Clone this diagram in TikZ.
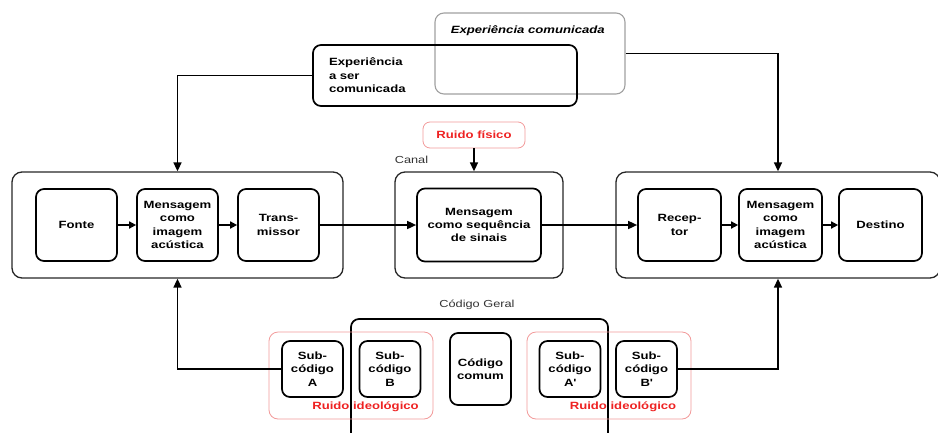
\documentclass[tikz,border=0pt]{standalone}
\usepackage{fontspec}
\setmainfont{Liberation Sans}
\newfontfamily\widefont[FakeStretch=1.25]{Liberation Sans}
\usetikzlibrary{arrows.meta}
\definecolor{noisered}{HTML}{EE2222}
\definecolor{noiseline}{HTML}{F29A9A}
\definecolor{greyline}{HTML}{A0A0A0}
\tikzset{
  boxtext/.style={font=\widefont\bfseries\fontsize{10.5}{13.4}\selectfont},
  outerbox/.style={draw=black!85, rounded corners=10pt, line width=1.3pt},
  innerbox/.style={boxtext, draw, rounded corners=8pt, line width=1.7pt, align=center,
    minimum width=81pt, minimum height=72pt, inner sep=1pt},
  subbox/.style={innerbox, minimum width=61pt, minimum height=56pt},
  noisebox/.style={boxtext, draw=noiseline, text=noisered, rounded corners=7pt, line width=0.8pt},
  noisetext/.style={boxtext, text=noisered, inner sep=1pt},
  labeltext/.style={font=\widefont\fontsize{10.2}{12}\selectfont, text=black!80, inner sep=1pt},
  shortarrow/.style={-{Triangle[length=7pt,width=7pt]}},
}
\begin{document}
\begin{tikzpicture}[x=1pt, y=-1pt, >={Triangle[length=9pt,width=8pt]}, line width=1.6pt]
  \useasboundingbox (0,0) rectangle (938,432);
  % experiencias
  \node [draw=greyline, rounded corners=9pt, line width=1.1pt, minimum width=190pt, minimum height=81pt] (expcom) at (530,53.5) {};
  \node [boxtext, font=\widefont\bfseries\itshape\fontsize{10.5}{13.4}\selectfont, anchor=west, inner sep=0pt] (expcomtxt) at (450,31) {Experiência comunicada};
  \node [boxtext, draw, rounded corners=8pt, line width=1.7pt, align=left, text width=232pt,
    inner xsep=16pt, minimum height=61pt] (expser) at (445,75.5) {Experiência\\a ser\\comunicada};
  % canal
  \node [noisebox, minimum width=102pt, minimum height=26pt] (ruido) at (474,135) {Ruido físico};
  \node [labeltext, anchor=west] (canallbl) at (393,160) {Canal};
  \node [outerbox, minimum width=168pt, minimum height=106pt] (canal) at (479,225) {};
  \node [innerbox, minimum width=124pt, minimum height=73pt] (sinais) at (479,225) {Mensagem\\como sequência\\de sinais};
  % emissor
  \node [outerbox, minimum width=331pt, minimum height=106pt] (emissor) at (177.5,225) {};
  \node [innerbox] (fonte) at (76.5,225) {Fonte};
  \node [innerbox] (msgfonte) at (177.5,225) {Mensagem\\como\\imagem\\acústica};
  \node [innerbox] (transm) at (278.5,225) {Trans-\\missor};
  % receptor
  \node [outerbox, minimum width=324pt, minimum height=106pt] (receptor) at (778,225) {};
  \node [innerbox, minimum width=83pt] (recep) at (679.5,225) {Recep-\\tor};
  \node [innerbox, minimum width=83pt] (msgdest) at (780.5,225) {Mensagem\\como\\imagem\\acústica};
  \node [innerbox, minimum width=83pt] (destino) at (880.5,225) {Destino};
  % codigos
  \node [labeltext] (gerallbl) at (477,305) {Código Geral};
  \node [draw, rounded corners=8pt, line width=1.7pt, minimum width=257pt, minimum height=141pt] (geral) at (479.5,389.5) {};
  \node [draw=noiseline, rounded corners=9pt, line width=0.8pt, minimum width=164pt, minimum height=87pt] (ruidoA) at (351,375.5) {};
  \node [draw=noiseline, rounded corners=9pt, line width=0.8pt, minimum width=164pt, minimum height=87pt] (ruidoB) at (609,375.5) {};
  \node [subbox] (subA) at (312.5,369) {Sub-\\código\\A};
  \node [subbox] (subB) at (390,369) {Sub-\\código\\B};
  \node [subbox, minimum height=72pt] (comum) at (480.5,369) {Código\\comum};
  \node [subbox] (subAp) at (570,369) {Sub-\\código\\A\textquotesingle};
  \node [subbox] (subBp) at (646.5,369) {Sub-\\código\\B\textquotesingle};
  \node [noisetext] (ideolA) at (365.5,407) {Ruido ideológico};
  \node [noisetext] (ideolB) at (623,407) {Ruido ideológico};
  % ligacoes
  \draw [->] (expser.west) -| (emissor.north);
  \draw [->] (expcom.east) -| (receptor.north);
  \draw [->] (ruido.south) -- (ruido.south |- canal.north);
  \draw [shortarrow] (fonte) -- (msgfonte);
  \draw [shortarrow] (msgfonte) -- (transm);
  \draw [->] (transm.east) -- (sinais.west);
  \draw [->] (sinais.east) -- (recep.west);
  \draw [shortarrow] (recep) -- (msgdest);
  \draw [shortarrow] (msgdest) -- (destino);
  \draw [->] (subA.west) -| (emissor.south);
  \draw [->] (subBp.east) -| (receptor.south);
\end{tikzpicture}
\end{document}
